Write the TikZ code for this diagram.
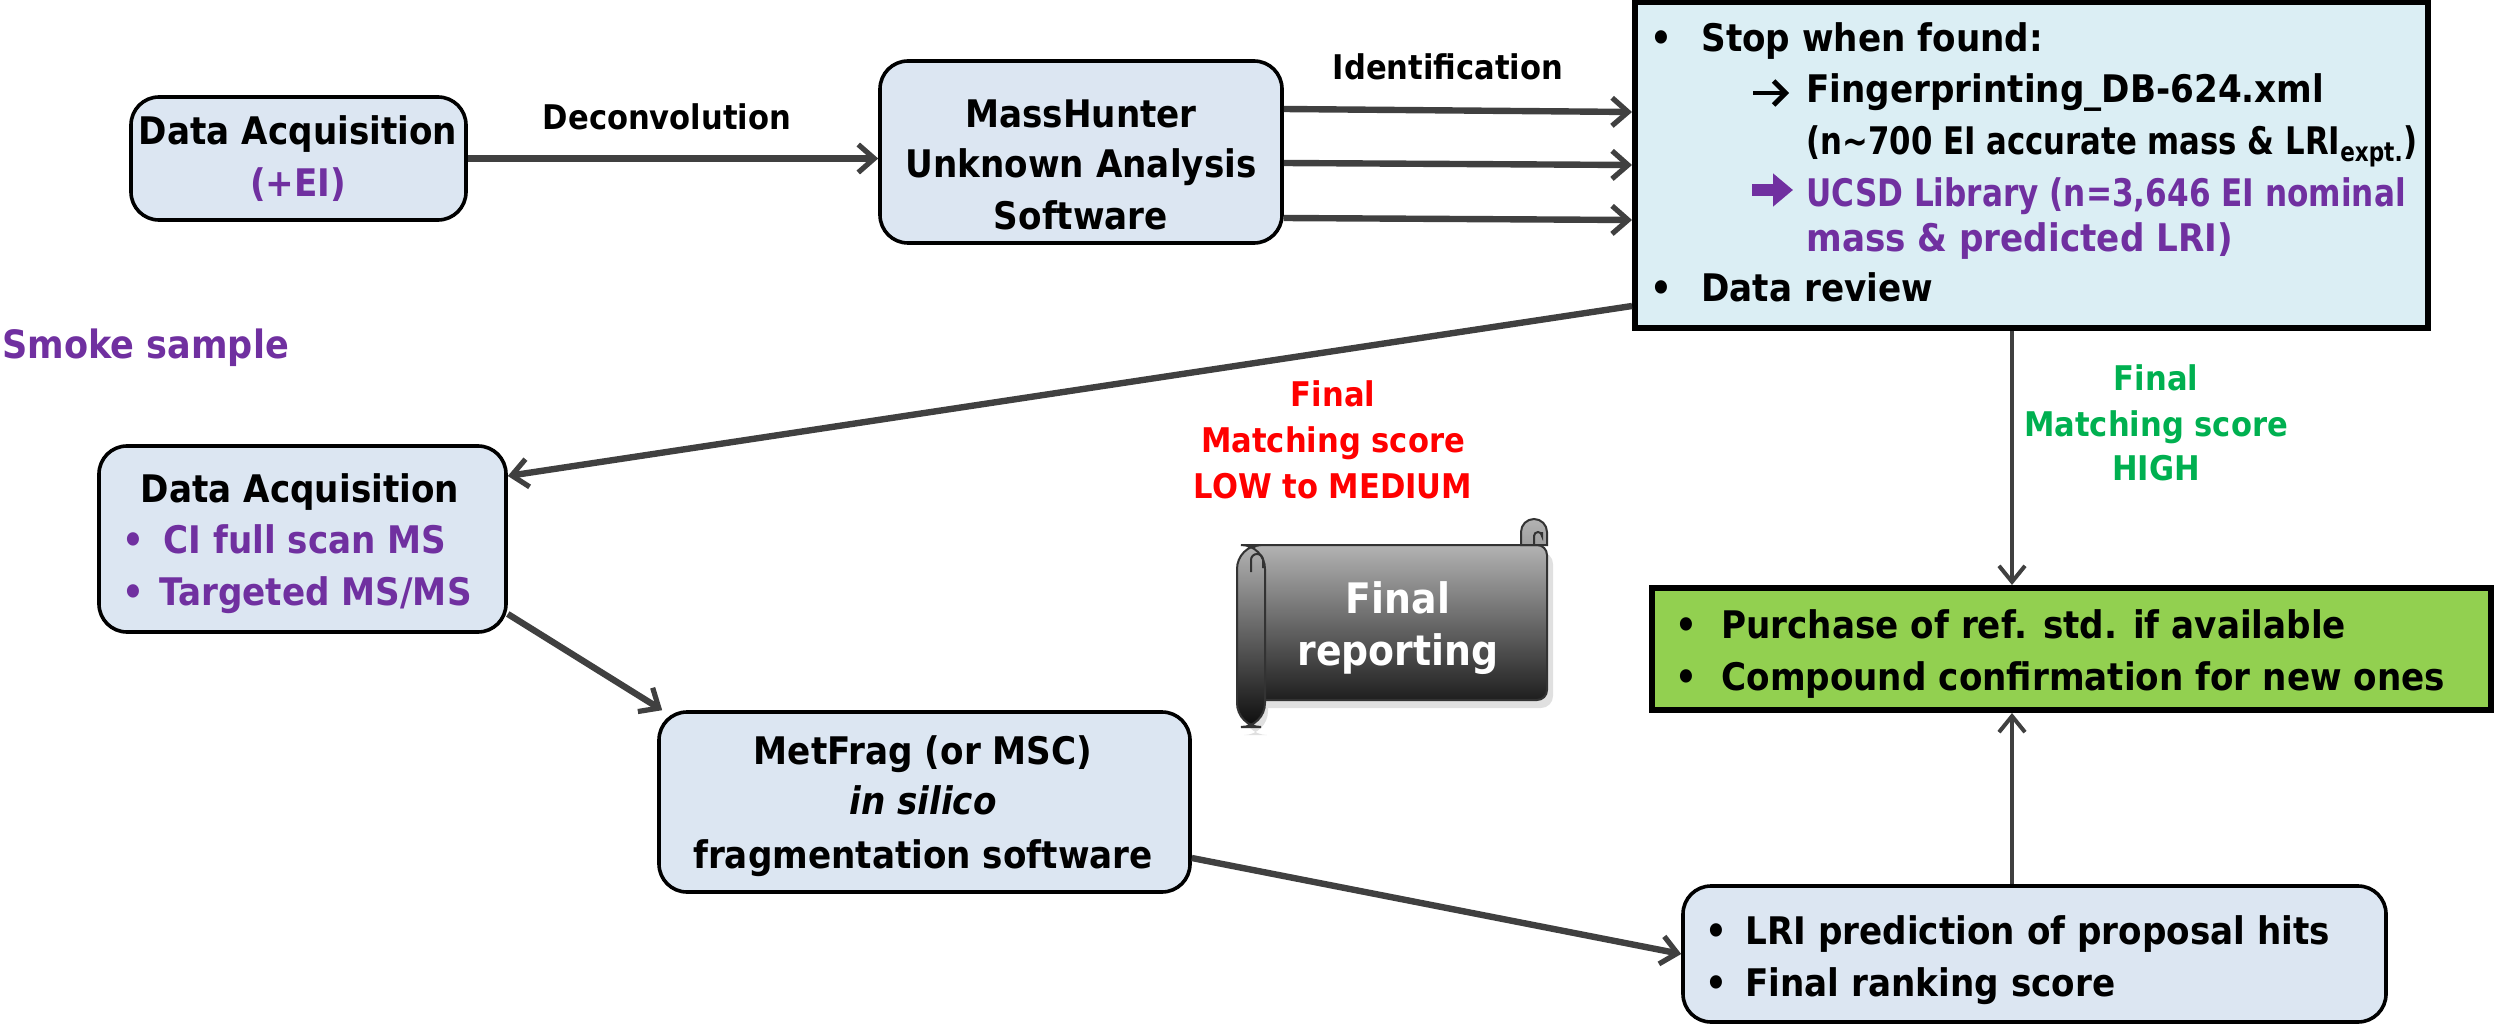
\documentclass[tikz,border=0pt]{standalone}
\usepackage{graphicx}
\usepackage{fontspec}
\setmainfont{DejaVu Sans}[FakeStretch=0.9]
\usetikzlibrary{arrows.meta,calc}
\definecolor{boxblue}{HTML}{DCE6F2}
\definecolor{boxcyan}{HTML}{DBEEF4}
\definecolor{boxgreen}{HTML}{92D050}
\definecolor{purp}{HTML}{7030A0}
\definecolor{redt}{HTML}{FF0000}
\definecolor{greent}{HTML}{00B050}
\definecolor{arrgray}{HTML}{404040}
\begin{document}
\begin{tikzpicture}[x=0.5pt,y=-0.5pt,
 bluebox/.style={draw=black,line width=1.8pt,fill=boxblue,rounded corners=14pt,inner sep=0pt},
 sqbox/.style={draw=black,line width=3pt,inner sep=0pt},
 txt/.style={anchor=base,inner sep=0pt,font=\bfseries\fontsize{19}{25}\selectfont},
 txtw/.style={txt,anchor=base west},
 lbl/.style={txt,font=\bfseries\fontsize{17}{22}\selectfont},
 arr/.style={draw=arrgray,line width=3.2pt,-{Straight Barb[length=8pt,width=14pt,line width=2.6pt]}},
 arrthin/.style={draw=arrgray,line width=2pt,-{Straight Barb[length=8pt,width=13pt,line width=2pt]}}]
\useasboundingbox (0,0) rectangle (2496,1027);

% boxes
\node[bluebox,minimum width=167.5pt,minimum height=61.5pt] (b1) at (298.5,158.5) {};
\node[bluebox,minimum width=201pt,minimum height=91pt] (mh) at (1081,152) {};
\node[sqbox,fill=boxcyan,minimum width=396.5pt,minimum height=163pt] (cy) at (2031.5,165) {};
\node[bluebox,minimum width=203.5pt,minimum height=93pt] (b2) at (302.5,539) {};
\node[bluebox,minimum width=265.5pt,minimum height=90pt] (mf) at (924.5,802) {};
\node[bluebox,minimum width=351.5pt,minimum height=68pt] (lri) at (2034.5,954) {};
\node[sqbox,fill=boxgreen,minimum width=419.5pt,minimum height=61pt] (gr) at (2071.5,649) {};
\coordinate (vx) at (2012,0);

% arrows
\draw[arr] (b1.east) -- (b1.east -| mh.west);
\draw[arr] ($(mh.east)+(0,-43)$) -- ($(cy.west)+(0,-53)$);
\draw[arr] ($(mh.east)+(0,11)$) -- ($(cy.west)+(0,0)$);
\draw[arr] ($(mh.east)+(0,66)$) -- ($(cy.west)+(0,55)$);
\draw[arr] ($(cy.west)+(0,141)$) -- ($(b2.east)+(0,-63)$);
\draw[arr] ($(b2.east)+(0,75)$) -- ($(mf.north west)+(5,0)$);
\draw[arr] ($(mf.east)+(0,56)$) -- (lri.west);
\draw[arrthin] (cy.south -| vx) -- (gr.north -| vx);
\draw[arrthin] (lri.north -| vx) -- (gr.south -| vx);

% box 1
\node[txt] (t1a) at (298,145) {Data Acquisition};
\node[txt,text=purp] (t1b) at (298,197) {(+EI)};
% masshunter
\node[txt] (mha) at (1081,128) {MassHunter};
\node[txt] (mhb) at (1081,178) {Unknown Analysis};
\node[txt] (mhc) at (1081,230) {Software};
% labels
\node[lbl] (ldec) at (667,130) {Deconvolution};
\node[lbl] (lid) at (1448,80) {Identification};
% cyan box content
\node[txtw] (cb1) at (1650,52) {•};
\node[txtw] (c1) at (1701,52) {Stop when found:};
\coordinate (ka1) at (1753,93);
\coordinate (ka2) at (1789,93);
\draw[line width=2.4pt,-{Straight Barb[length=6pt,width=12pt,line width=2.4pt]}] (ka1) -- (ka2);
\node[txtw] (c2) at (1806,103) {Fingerprinting\_DB-624.xml};
\node[txtw] (c3) at (1806,155) {\scalebox{0.9}[1]{(n\textasciitilde700 EI accurate mass \& LRI\textsubscript{expt.})}};
\coordinate (kb1) at (1752,190);
\coordinate (kb2) at (1793,190);
\draw[purp,line width=6pt,-{Triangle[length=10pt,width=16pt]}] (kb1) -- (kb2);
\node[txtw,text=purp] (c4) at (1806,207) {\scalebox{0.91}[1]{UCSD Library (n=3,646 EI nominal}};
\node[txtw,text=purp] (c5) at (1806,252) {mass \& predicted LRI)};
\node[txtw] (cb2) at (1650,302) {•};
\node[txtw] (c6) at (1701,302) {Data review};
% smoke
\node[txtw,text=purp,font=\bfseries\fontsize{19.5}{24}\selectfont] (smoke) at (2,358) {Smoke sample};
% box 2
\node[txt] (b2a) at (300,502) {Data Acquisition};
\node[txtw,text=purp] (b2b1) at (122,553) {•};
\node[txtw,text=purp] (b2b) at (163,553) {CI full scan MS};
\node[txtw,text=purp] (b2c1) at (122,605) {•};
\node[txtw,text=purp] (b2c) at (159,605) {Targeted MS/MS};
% metfrag
\node[txt] (mfa) at (923,764) {MetFrag (or MSC)};
\node[txt] (mfb) at (923,814) {\itshape in silico};
\node[txt] (mfc) at (923,868) {fragmentation software};
% green box
\node[txtw] (g1b) at (1675,638) {•};
\node[txtw] (g1) at (1721,638) {Purchase of ref. std. if available};
\node[txtw] (g2b) at (1675,690) {•};
\node[txtw] (g2) at (1721,690) {Compound confirmation for new ones};
% lri box
\node[txtw] (l1b) at (1705,944) {•};
\node[txtw] (l1) at (1745,944) {LRI prediction of proposal hits};
\node[txtw] (l2b) at (1705,996) {•};
\node[txtw] (l2) at (1745,996) {Final ranking score};
% red label
\node[lbl,text=redt] (r1) at (1333,407) {Final};
\node[lbl,text=redt] (r2) at (1333,452) {Matching score};
\node[lbl,text=redt] (r3) at (1333,498) {LOW to MEDIUM};
% green label
\node[lbl,text=greent] (h1) at (2156,390) {Final};
\node[lbl,text=greent] (h2) at (2156,436) {Matching score};
\node[lbl,text=greent] (h3) at (2156,480) {HIGH};

% scroll
\fill[black!12,rounded corners=6pt] (1243,552) rectangle (1553,708);
\fill[black!12,rounded corners=12pt] (1243,552) rectangle (1268,735);
\shade[top color=black!30,bottom color=black!88,draw=black!80,line width=1pt,rounded corners=5pt]
  (1250,545) rectangle (1547,700);
\shade[top color=black!30,bottom color=black!38,draw=black!80,line width=1pt]
  (1521,545) -- (1521,532) arc (180:360:13) -- (1547,545) -- cycle;
\draw[black!80,line width=1pt] (1534,545) -- (1534,536) arc (180:360:4) -- (1542,532);
\shade[top color=black!30,bottom color=black!95,draw=black!80,line width=1pt,rounded corners=12pt]
  (1237,545) rectangle (1265,727);
\draw[black!80,line width=1pt] (1251,572) -- (1251,560) arc (180:360:6) -- (1263,568);
\node[txt,text=white,font=\bfseries\fontsize{21}{26}\selectfont] (s1) at (1398,613) {Final};
\node[txt,text=white,font=\bfseries\fontsize{21}{26}\selectfont] (s2) at (1398,665) {reporting};
\end{tikzpicture}
\end{document}
